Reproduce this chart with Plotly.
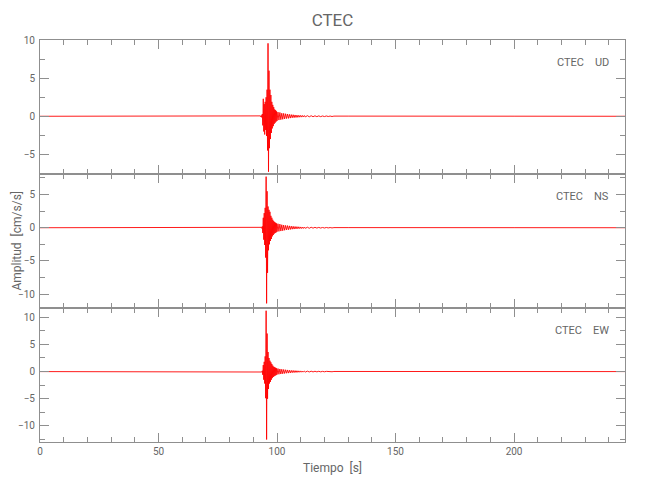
import plotly.graph_objects as go
from plotly.subplots import make_subplots

# Sampling times (s)
tiempo = [0.0, 60.0, 92.0,
          93.0, 93.2, 93.4, 93.6, 93.8, 94.0, 94.2, 94.4, 94.6, 94.8,
          95.0, 95.2, 95.4, 95.6, 95.8, 96.0, 96.2, 96.4, 96.6, 96.8,
          97.0, 97.2, 97.4, 97.6, 97.8, 98.0, 98.2, 98.4, 98.6, 98.8,
          99.0, 99.2, 99.4, 99.6, 99.8, 100.0,
          100.4, 100.8, 101.2, 101.6, 102.0, 102.4, 102.8, 103.2, 103.6, 104.0,
          104.4, 104.8, 105.2, 105.6, 106.0, 106.4, 106.8, 107.2, 107.6, 108.0,
          108.4, 108.8, 109.2, 109.6, 110.0, 110.4, 110.8, 111.2, 111.6, 112.0,
          112.8, 113.6, 114.4, 115.2, 116.0, 116.8, 117.6, 118.4, 119.2, 120.0,
          120.8, 121.6, 122.4, 123.2, 124.0,
          130.0, 160.0, 200.0, 246.8]

# UD component (cm/s/s)
ud = [0.0, 0.02, -0.03,
      0.05, -0.08, 0.1, -0.15, 0.3, -1.2, 2.3, -2.0, 1.6, -2.4,
      1.9, -1.8, 2.5, -2.6, 3.5, -4.5, 9.6, -7.3, 6.0, -4.2,
      3.5, -3.0, 2.8, -2.2, 1.9, -1.6, 1.5, -1.3, 1.2, -1.0,
      0.9, -0.85, 0.8, -0.7, 0.65, -0.6,
      0.55, -0.5, 0.5, -0.45, 0.4, -0.4, 0.38, -0.35, 0.33, -0.3,
      0.3, -0.28, 0.25, -0.24, 0.22, -0.2, 0.2, -0.18, 0.17, -0.16,
      0.15, -0.14, 0.13, -0.12, 0.12, -0.11, 0.1, -0.1, 0.09, -0.08,
      0.08, -0.07, 0.07, -0.06, 0.06, -0.05, 0.05, -0.05, 0.04, -0.04,
      0.04, -0.03, 0.03, -0.03, 0.02,
      0.02, -0.02, 0.01, 0.0]

# NS component (cm/s/s)
ns = [0.0, -0.02, 0.02,
      0.03, -0.05, 0.06, -0.1, 0.2, -0.8, 1.5, -1.8, 2.2, -2.6,
      3.0, -4.5, 7.7, -11.4, 5.5, -6.8, 3.2, -3.4, 2.7, -2.5,
      2.4, -2.0, 1.8, -1.7, 1.5, -1.3, 1.2, -1.1, 1.0, -0.9,
      0.85, -0.8, 0.75, -0.7, 0.65, -0.6,
      0.6, -0.55, 0.55, -0.5, 0.45, -0.45, 0.4, -0.38, 0.35, -0.33,
      0.32, -0.3, 0.28, -0.26, 0.24, -0.22, 0.21, -0.2, 0.18, -0.17,
      0.16, -0.15, 0.14, -0.13, 0.12, -0.12, 0.11, -0.1, 0.1, -0.09,
      0.08, -0.08, 0.07, -0.06, 0.06, -0.05, 0.05, -0.05, 0.04, -0.04,
      0.04, -0.03, 0.03, -0.03, 0.02,
      0.02, -0.02, 0.01, 0.0]

# EW component (cm/s/s)
ew = [0.0, 0.02, -0.02,
      0.03, -0.04, 0.05, -0.08, 0.15, -0.6, 1.2, -1.5, 1.8, -2.2,
      2.8, -4.9, 11.2, -12.5, 7.0, -5.0, 3.6, -3.2, 2.5, -2.2,
      2.0, -1.9, 1.7, -1.5, 1.4, -1.2, 1.1, -1.0, 0.9, -0.85,
      0.8, -0.75, 0.7, -0.65, 0.6, -0.55,
      0.55, -0.5, 0.48, -0.45, 0.42, -0.4, 0.38, -0.35, 0.33, -0.3,
      0.3, -0.28, 0.25, -0.24, 0.22, -0.2, 0.2, -0.18, 0.17, -0.16,
      0.15, -0.14, 0.13, -0.12, 0.12, -0.11, 0.1, -0.1, 0.09, -0.08,
      0.08, -0.07, 0.07, -0.06, 0.06, -0.05, 0.05, -0.05, 0.04, -0.04,
      0.04, -0.03, 0.03, -0.03, 0.02,
      0.02, -0.02, 0.01, 0.0]

componentes = ["UD", "NS", "EW"]
series = [ud, ns, ew]
y_ranges = [[-7.6, 10.04], [-12.1, 8.1], [-12.96, 11.7]]
estacion = "CTEC"
x_range = [0, 246.8]

FONT = "Roboto, DejaVu Sans, sans-serif"
GRAY = "#8f8f8f"
TXT = "#666666"

fig = make_subplots(rows=3, cols=1, shared_xaxes=True, vertical_spacing=0)

for i, (comp, vals) in enumerate(zip(componentes, series)):
    fig.add_trace(go.Scatter(x=tiempo, y=vals, mode="lines",
                             line=dict(color="#ff0000", width=0.9),
                             showlegend=False, hoverinfo="skip"),
                  row=i + 1, col=1)
    fig.add_annotation(text=f"{estacion}&nbsp;&nbsp;&nbsp;&nbsp;{comp}",
                       xref=f"x{'' if i == 0 else i + 1} domain",
                       yref=f"y{'' if i == 0 else i + 1} domain",
                       x=0.976, y=0.835, xanchor="right", yanchor="middle",
                       showarrow=False, font=dict(family=FONT, size=11, color=TXT))

axis_common = dict(showline=True, linecolor=GRAY, linewidth=1, mirror="allticks",
                   ticks="inside", tickcolor=GRAY, ticklen=9, showgrid=False,
                   zeroline=False, automargin=False,
                   tickfont=dict(family=FONT, size=10, color=TXT))

for i in range(3):
    fig.update_yaxes(range=y_ranges[i], dtick=5, tick0=0, ticklabelstandoff=2,
                     minor=dict(dtick=2.5, ticks="inside", ticklen=5, tickcolor=GRAY),
                     row=i + 1, col=1, **axis_common)
    fig.update_xaxes(range=x_range, dtick=50, tick0=0,
                     minor=dict(dtick=10, ticks="inside", ticklen=5, tickcolor=GRAY),
                     row=i + 1, col=1, **axis_common)

fig.update_xaxes(title=dict(text="Tiempo  [s]", font=dict(family=FONT, size=12, color=TXT),
                            standoff=7), row=3, col=1)

fig.add_annotation(text="Amplitud  [cm/s/s]", xref="paper", yref="paper",
                   x=-0.04, y=0.5, xanchor="center", yanchor="middle", textangle=-90,
                   showarrow=False, font=dict(family=FONT, size=12, color=TXT))

fig.update_layout(
    width=642, height=492,
    margin=dict(l=32, r=25, t=32, b=58, autoexpand=False),
    paper_bgcolor="white", plot_bgcolor="white",
    title=dict(text=estacion, x=0.5, xref="paper", y=0.976, yanchor="middle",
               font=dict(family=FONT, size=17, color=TXT)),
)

fig.write_html("out.html")
